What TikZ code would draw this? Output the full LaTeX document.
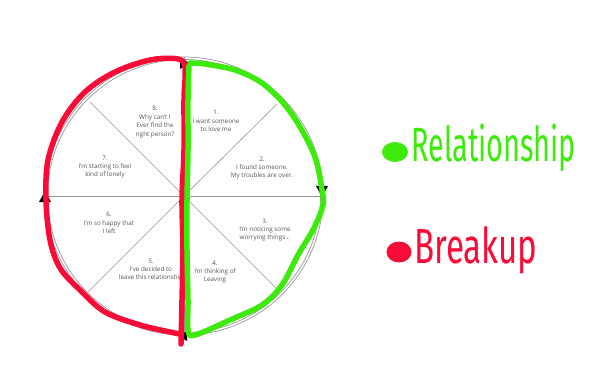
\documentclass[tikz,border=0pt]{standalone}
\usepackage{fontspec}
\setmainfont{Open Sans}
\newfontfamily\handfont{Fira Sans}
\definecolor{relgreen}{RGB}{60,235,10}
\definecolor{brkred}{RGB}{250,10,55}
\definecolor{txtgrey}{RGB}{85,85,85}
\definecolor{linegrey}{RGB}{150,150,150}
\begin{document}
\begin{tikzpicture}[x=1pt,y=-1pt,
  seglabel/.style={align=center,text=txtgrey,font=\fontsize{6.3}{8.4}\selectfont,inner sep=0pt},
  spoke/.style={draw=linegrey,line width=0.6pt},
  stroke/.style={line width=5.5pt,line cap=round,line join=round},
  tip/.style={fill=black}]
\useasboundingbox (0,0) rectangle (600,385);
\coordinate (c) at (184,196);
% grey wheel
\draw[linegrey,line width=0.7pt] (c) circle[radius=139];
\draw[linegrey,line width=0.7pt] (c) circle[radius=136.5];
\draw[spoke] (184,57) -- (184,335);
\draw[spoke] (45,196) -- (323,196);
\draw[spoke] (c) -- ++(-94,-94);
\draw[spoke] (c) -- ++(93,-92);
\draw[spoke] (c) -- ++(94,94);
\draw[spoke] (c) -- ++(-96,96);
% labels
\node[seglabel] (s1) at (216,121) {1.\\I want someone\\to love me};
\node[seglabel] (s2) at (262,168) {2.\\I found someone.\\My troubles are over.};
\node[seglabel] (s3) at (265,230) {3.\\I'm noticing some\\worrying things...};
\node[seglabel] (s4) at (215,272) {4.\\I'm thinking of\\Leaving};
\node[seglabel] (s5) at (151,270) {5.\\I've decided to\\leave this relationship};
\node[seglabel] (s6) at (109,223) {6.\\I'm so happy that\\I left};
\node[seglabel] (s7) at (105,167) {7.\\I'm starting to feel\\kind of lonely};
\node[seglabel] (s8) at (155,122) {8.\\Why can't I\\Ever find the\\right person?};
% direction triangles
\fill[tip] (180,57) -- (189,63) -- (180,69) -- cycle;
\fill[tip] (39,202) -- (45,191) -- (51,202) -- cycle;
\fill[tip] (316,186) -- (328,186) -- (322,197) -- cycle;
\fill[tip] (187,331) -- (179,336) -- (187,341) -- cycle;
% red breakup stroke
\draw[stroke,brkred] plot[smooth,tension=0.55] coordinates {
  (181,344) (182,300) (183,250) (182,200) (184,150) (184,100) (185,68)
  (178,59) (150,60) (115,72) (85,92) (62,122) (48,160) (46,200) (50,240)
  (60,268) (80,290) (105,312) (140,325) (170,332) (180,334)};
% green relationship stroke
\draw[stroke,relgreen] plot[smooth,tension=0.55] coordinates {
  (190,63) (205,64) (235,70) (262,83) (285,105) (303,132) (316,160)
  (322,190) (323,205) (314,228) (298,255) (282,285) (262,305) (230,320)
  (195,335) (188,330) (188,300) (187,250) (187,200) (188,150) (188,100) (189,66)};
% legend
\fill[relgreen] (395,152) ellipse[x radius=13,y radius=10];
\node[anchor=base west,inner sep=0pt,text=relgreen] (rel) at (411,161)
  {\scalebox{1.05}[1.75]{\handfont\fontsize{27.5}{30}\selectfont Relationship}};
\fill[brkred] (399,252) ellipse[x radius=12.5,y radius=10.5];
\node[anchor=base west,inner sep=0pt,text=brkred] (brk) at (414,263)
  {\scalebox{1.14}[1.7]{\handfont\fontsize{29}{32}\selectfont Breakup}};
\end{tikzpicture}
\end{document}
